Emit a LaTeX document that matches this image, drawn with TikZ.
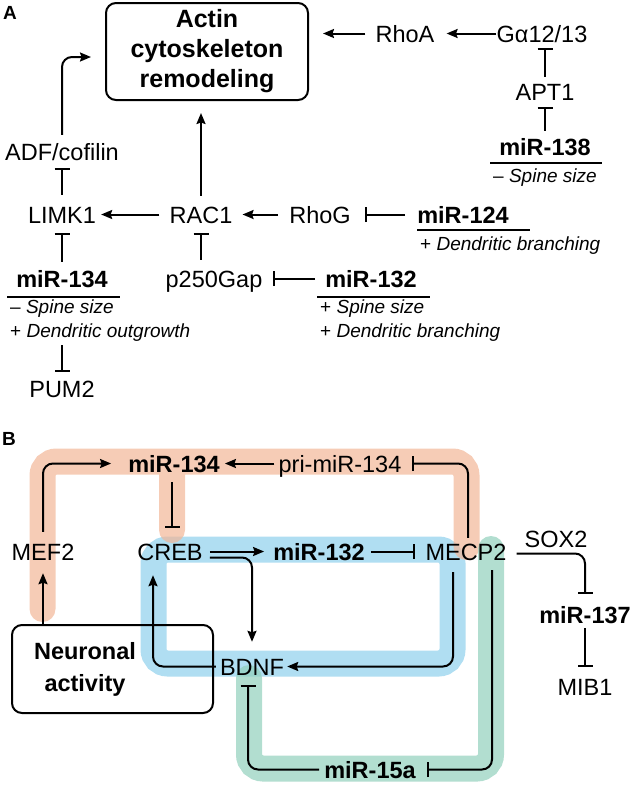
\documentclass[tikz,border=0pt]{standalone}
\usepackage{fontspec}
\setmainfont{Liberation Sans}
\usetikzlibrary{arrows.meta}
\definecolor{bandorange}{RGB}{242,182,151}
\definecolor{bandblue}{RGB}{142,208,236}
\definecolor{bandgreen}{RGB}{145,208,188}
\begin{document}
\begin{tikzpicture}[x=1pt,y=-1pt,
  lbl/.style={inner sep=0pt, text height=17pt, text depth=0pt, anchor=base, font=\fontsize{23.5}{28}\selectfont},
  blbl/.style={lbl, font=\fontsize{23.5}{28}\selectfont\bfseries},
  note/.style={inner sep=0pt, anchor=base west, font=\fontsize{19}{22}\selectfont},
  act/.style={line width=2pt, -{Stealth[length=11pt,width=9pt,inset=1.5pt]}},
  inh/.style={line width=2pt, -{Bar[width=15pt]}},
  uline/.style={line width=1.5pt},
  band/.style={line width=26pt, line cap=round, rounded corners=14pt, opacity=0.7},
  bigbox/.style={draw, line width=2pt, rounded corners=10pt, inner sep=0pt},
  panel/.style={inner sep=0pt, anchor=base, font=\fontsize{19}{22}\selectfont\bfseries},
]
\useasboundingbox (0,0) rectangle (636,785);

% ---------------- Panel B bands ----------------
\draw[band, bandblue] (153.5,549.5) rectangle (452.5,663.5);
\draw[band, bandorange] (42.5,609) -- (42.5,461.5) -- (466.5,461.5) -- (466.5,547)
                        (172,461.5) -- (172,530);
\draw[band, bandgreen] (491,549) -- (491,768.5) -- (249,768.5) -- (249,678);

% ---------------- Panel A ----------------
\node[panel] (pa) at (10,19) {A};
\node[bigbox, minimum width=202pt, minimum height=97pt, align=center,
      font=\fontsize{25}{30}\selectfont\bfseries] (actin) at (207,51.5)
      {Actin\\cytoskeleton\\remodeling};

\node[lbl] (rhoa) at (405,42) {RhoA};
\node[lbl] (ga) at (542,42) {Gα12/13};
\node[lbl] (apt1) at (545,100) {APT1};
\node[blbl] (mir138) at (545,155) {miR-138};
\node[note] (n138) at (493,182) {– \textit{Spine size}};

\node[lbl] (adf) at (62,160) {ADF/cofilin};
\node[lbl] (limk1) at (62,223) {LIMK1};
\node[lbl] (rac1) at (201,223) {RAC1};
\node[lbl] (rhog) at (320,223) {RhoG};
\node[blbl] (mir124) at (463,223) {miR-124};
\node[note] (n124) at (420,250) {+ \textit{Dendritic branching}};

\node[blbl] (mir134a) at (62,287) {miR-134};
\node[note] (n134a) at (10,313) {– \textit{Spine size}};
\node[note] (n134b) at (10,337) {+ \textit{Dendritic outgrowth}};
\node[lbl] (pum2) at (62,397) {PUM2};

\node[lbl] (p250) at (214,287) {p250Gap};
\node[blbl] (mir132a) at (371,287) {miR-132};
\node[note] (n132a) at (320,313) {+ \textit{Spine size}};
\node[note] (n132b) at (320,337) {+ \textit{Dendritic branching}};

% underlines
\draw[uline] (490,163) -- (602,163);
\draw[uline] (417,230) -- (530,230);
\draw[uline] (7,297) -- (120,297);
\draw[uline] (317,297) -- (430,297);

% connectors A
\draw[act, shorten >=12pt] (ga.west) -- (rhoa.east);
\draw[act, shorten <=10pt, shorten >=14pt] (rhoa.west) -- (rhoa.west -| actin.east);
\draw[inh, shorten <=6pt, shorten >=6pt] (apt1.north) -- (apt1.north |- ga.south);
\draw[inh, shorten <=7pt, shorten >=7pt] (mir138.north) -- (apt1.south);
\draw[act, shorten <=10pt, shorten >=5pt] (rac1.west) -- (limk1.east);
\draw[act, shorten <=11pt, shorten >=10pt] (rhog.west) -- (rac1.east);
\draw[inh, shorten <=12pt, shorten >=14pt] (mir124.west) -- (rhog.east);
\draw[act, shorten <=10pt, shorten >=12pt] (rac1.north) -- (rac1.north |- actin.south);
\draw[inh, shorten <=10pt, shorten >=10pt] (rac1.south |- p250.north) -- (rac1.south);
\draw[inh, shorten <=10pt, shorten >=10pt] (mir132a.west) -- (p250.east);
\draw[inh, shorten <=11pt, shorten >=8pt] (limk1.north) -- (adf.south);
\draw[inh, shorten <=8pt, shorten >=10pt] (mir134a.north) -- (limk1.south);
\draw[inh, shorten <=4pt, shorten >=8pt] (pum2.north |- n134b.south) -- (pum2.north);
\draw[act, rounded corners=10pt, shorten <=8pt, shorten >=14pt] (adf.north) |- ([yshift=-5.5pt]actin.west);

% ---------------- Panel B ----------------
\node[panel] (pb) at (9,445) {B};
\node[lbl] (mef2) at (43,560) {MEF2};
\node[lbl] (creb) at (170,560) {CREB};
\node[blbl] (mir132b) at (319,560) {miR-132};
\node[lbl] (mecp2) at (466,560) {MECP2};
\node[blbl] (mir134b) at (174,472) {miR-134};
\node[lbl] (pri) at (340,472) {pri-miR-134};
\node[lbl] (bdnf) at (252,675) {BDNF};
\node[blbl] (mir15a) at (370,778) {miR-15a};
\node[lbl] (sox2) at (556,547) {SOX2};
\node[blbl] (mir137) at (585,623) {miR-137};
\node[lbl] (mib1) at (585,695) {MIB1};
\node[bigbox, minimum width=201pt, minimum height=88pt,
      font=\fontsize{23.5}{32}\selectfont\bfseries] (neuro) at (112.5,669)
      {\hspace*{-55pt}\begin{tabular}{@{}c@{}}Neuronal\\activity\end{tabular}};

% connectors B
\draw[act, rounded corners=10pt, shorten <=11pt, shorten >=17pt] (mef2.north) |- (mir134b.west);
\draw[act, shorten <=4pt, shorten >=5pt] (pri.west) -- (mir134b.east);
\draw[inh, rounded corners=10pt, shorten <=5pt, shorten >=10pt] ([xshift=2pt]mecp2.north) |- (pri.east);
\draw[inh, shorten <=10pt, shorten >=15pt] ([xshift=-2pt]mir134b.south) -- ([xshift=-2pt]mir134b.south |- creb.north);
\draw[act, shorten <=7pt, shorten >=9pt] (creb.east) -- (mir132b.west);
\draw[inh, shorten <=6pt, shorten >=10pt] (mir132b.east) -- (mecp2.west);
\draw[act, rounded corners=10pt, shorten >=16pt] ([xshift=7pt,yshift=-6pt]creb.east) -| (bdnf.north);
\draw[act, rounded corners=10pt, shorten <=4pt, shorten >=15pt] (bdnf.west) -| ([xshift=-17pt]creb.south);
\draw[act, rounded corners=10pt, shorten <=12pt, shorten >=3pt] ([xshift=-13pt]mecp2.south) |- (bdnf.east);
\draw[inh, rounded corners=10pt, shorten <=10pt, shorten >=11pt] ([xshift=26pt]mecp2.south) |- (mir15a.east);
\draw[inh, rounded corners=10pt, shorten <=5pt, shorten >=10pt] (mir15a.west) -| ([xshift=-4pt]bdnf.south);
\draw[inh, rounded corners=10pt, shorten <=10pt, shorten >=12pt] ([yshift=-2pt]mecp2.east) -| (mir137.north);
\draw[inh, shorten <=5pt, shorten >=11pt] (mir137.south) -- (mib1.north);
\draw[act, shorten >=13pt] (neuro.north -| mef2.south) -- (mef2.south);
\end{tikzpicture}
\end{document}
